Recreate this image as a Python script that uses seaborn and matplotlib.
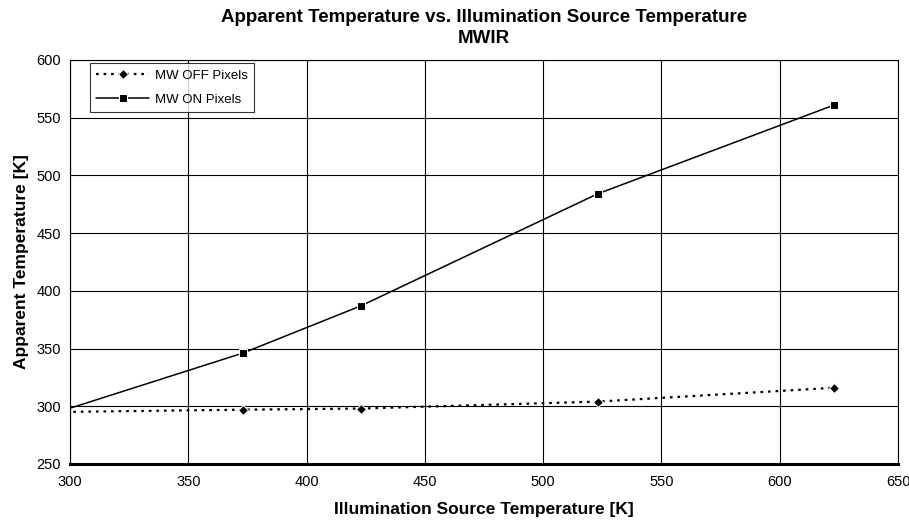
import pandas as pd
import matplotlib.pyplot as plt
import seaborn as sns

# Data
source_temp = [295, 373, 423, 523, 623]
mw_off = [295, 297, 298, 304, 316]
mw_on = [295, 346, 387, 484, 561]

x_ticks = [300, 350, 400, 450, 500, 550, 600, 650]
y_ticks = [250, 300, 350, 400, 450, 500, 550, 600]

df = pd.DataFrame({'source': source_temp, 'off': mw_off, 'on': mw_on})

sns.set_style("white")
plt.rcParams['font.family'] = ['Liberation Sans', 'DejaVu Sans']
plt.rcParams['text.color'] = 'black'
plt.rcParams['axes.labelcolor'] = 'black'
plt.rcParams['xtick.color'] = 'black'
plt.rcParams['ytick.color'] = 'black'

fig = plt.figure(figsize=(9.09, 5.26), dpi=100)
ax = fig.add_axes([0.077, 0.118, 0.911, 0.768])

# first point lies below the x range, so markers are drawn only for visible ones
sns.lineplot(data=df, x='source', y='off', ax=ax, color='black', linewidth=1.6,
             linestyle=(0, (1.2, 2.2)), marker='D', markersize=5, markevery=[1, 2, 3, 4],
             label='MW OFF Pixels')
sns.lineplot(data=df, x='source', y='on', ax=ax, color='black', linewidth=1.1,
             marker='s', markersize=5.5, markevery=[1, 2, 3, 4],
             label='MW ON Pixels')

ax.set_xlim(300, 650)
ax.set_ylim(250, 600)
ax.set_xticks(x_ticks)
ax.set_yticks(y_ticks)
ax.grid(True, color='black', linewidth=0.8)
ax.tick_params(axis='both', labelsize=10.5, length=3, direction='out', color='black')
ax.tick_params(axis='x', pad=5)

for side in ['left', 'top', 'right']:
    ax.spines[side].set_color('black')
    ax.spines[side].set_linewidth(0.8)
ax.spines['bottom'].set_color('black')
ax.spines['bottom'].set_linewidth(2.2)

ax.set_xlabel('Illumination Source Temperature [K]', fontsize=12.5, fontweight='bold', labelpad=9)
ax.set_ylabel('Apparent Temperature [K]', fontsize=12.5, fontweight='bold', labelpad=5)
ax.set_title('Apparent Temperature vs. Illumination Source Temperature\nMWIR',
             fontsize=13.5, fontweight='bold', pad=12, linespacing=1.35)

leg = ax.legend(loc='upper left', bbox_to_anchor=(0.024, 0.993), fontsize=9.5, frameon=True,
                fancybox=False, handlelength=4, borderpad=0.5, labelspacing=0.9,
                handletextpad=0.4, borderaxespad=0)
leg.get_frame().set_edgecolor('black')
leg.get_frame().set_linewidth(0.8)

plt.savefig('out.png', dpi=100)
